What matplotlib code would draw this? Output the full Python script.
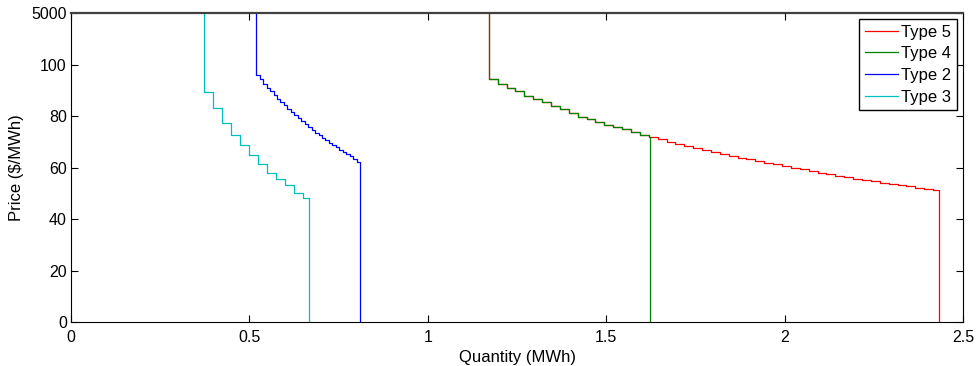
import numpy as np
import matplotlib
matplotlib.use("Agg")
import matplotlib.pyplot as plt

plt.rcParams['font.family'] = ['Liberation Sans', 'DejaVu Sans']

# offer curves: start quantity, block size (MWh), block prices ($/MWh), end quantity
cap_price = 120  # drawn at the top of the axis, labelled 5000

type3_start, type3_block, type3_end = 0.373, 0.0251, 0.668
type3_prices = [89.3, 83.1, 77.4, 72.7, 68.7, 64.7, 61.5, 58.0, 55.5, 53.1, 50.3, 48.3]

type2_start, type2_block, type2_end = 0.519, 0.0097, 0.810
type2_prices = [96.1, 94.3, 92.6, 91.0, 89.6, 88.2, 86.8, 85.5, 84.2, 82.9,
                81.6, 80.4, 79.2, 78.0, 76.9, 75.8, 74.7, 73.6, 72.6, 71.6,
                70.6, 69.6, 68.7, 67.8, 66.9, 66.0, 65.1, 64.3, 63.5, 62.2]

type45_start, type45_block = 1.171, 0.0249
type4_end, type5_end = 1.623, 2.434
type45_prices = [94.2, 92.5, 90.9, 89.6, 87.9, 86.5, 85.3, 83.8, 82.6, 81.3,
                 79.7, 78.9, 77.8, 76.7, 75.7, 74.8, 73.7, 72.7, 72.0,
                 71.2, 70.0, 69.3, 68.3, 67.6, 66.7, 66.0, 65.4, 64.3, 63.8,
                 63.2, 62.5, 61.9, 61.2, 60.6, 60.0, 59.3, 58.7, 58.0, 57.4,
                 56.7, 56.2, 55.7, 55.2, 54.7, 54.1, 53.6, 53.2, 52.7, 52.2,
                 51.7, 51.3]

xticks = [0, 0.5, 1, 1.5, 2, 2.5]
xtick_labels = ["0", "0.5", "1", "1.5", "2", "2.5"]
yticks = [0, 20, 40, 60, 80, 100, 120]
ytick_labels = ["0", "20", "40", "60", "80", "100", "5000"]


def offer_curve(start, block, prices, end):
    """Step outline: down from the cap, along each block, then down to zero."""
    edges = start + block * np.arange(len(prices) + 1)
    n = np.searchsorted(edges, end, side="left")  # blocks that start before end
    edges = np.append(edges[:n], end)
    p = np.asarray(prices[:n])
    xs = np.repeat(edges, 2)
    ys = np.concatenate([[cap_price], np.repeat(p, 2), [0]])
    return xs, ys


fig, ax = plt.subplots(figsize=(9.77, 3.66), dpi=100)
fig.subplots_adjust(left=0.0727, right=0.9857, bottom=0.12, top=0.9645)

lw = 0.9
ax.plot(*offer_curve(type45_start, type45_block, type45_prices, type5_end),
        color=(1, 0, 0), lw=lw, label="Type 5")
ax.plot(*offer_curve(type45_start, type45_block, type45_prices, type4_end),
        color=(0, 0.5, 0), lw=lw, label="Type 4")
ax.plot(*offer_curve(type2_start, type2_block, type2_prices, type2_end),
        color=(0, 0, 1), lw=lw, label="Type 2")
ax.plot(*offer_curve(type3_start, type3_block, type3_prices, type3_end),
        color=(0, 0.75, 0.75), lw=lw, label="Type 3")

ax.set_xlim(0, 2.5)
ax.set_ylim(0, cap_price)
ax.set_xticks(xticks)
ax.set_xticklabels(xtick_labels)
ax.set_yticks(yticks)
ax.set_yticklabels(ytick_labels)
ax.tick_params(direction="in", length=5, width=0.8, top=True, right=True,
               labelsize=11.5)
ax.tick_params(axis="x", pad=6)
ax.tick_params(axis="y", pad=3)
ax.set_xlabel("Quantity (MWh)", fontsize=12, labelpad=3)
ax.set_ylabel("Price ($/MWh)", fontsize=12, labelpad=5)

for side in ["left", "right", "bottom"]:
    ax.spines[side].set_linewidth(0.8)
ax.spines["top"].set_linewidth(1.6)
ax.spines["top"].set_color("#404040")

leg = ax.legend(loc="upper right", fontsize=12, fancybox=False, framealpha=1,
                edgecolor="black", handlelength=2.0, handletextpad=0.2,
                labelspacing=0.4, borderpad=0.35, borderaxespad=0.35)
leg.get_frame().set_linewidth(1.0)

plt.savefig("out.png", dpi=100)
plt.close()
